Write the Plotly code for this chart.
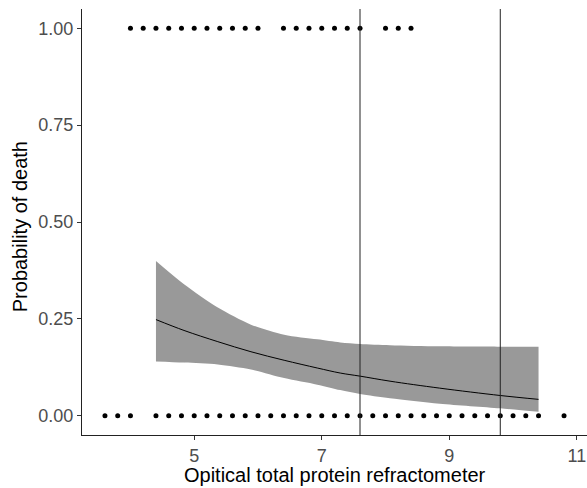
import plotly.graph_objects as go

# observed points (outcome 0 = survived, 1 = died)
x_dead = [4.0, 4.2, 4.4, 4.6, 4.8, 5.0, 5.2, 5.4, 5.6, 5.8, 6.0,
          6.4, 6.6, 6.8, 7.0, 7.2, 7.4, 7.6,
          8.0, 8.2, 8.4]
x_alive = [3.6, 3.8, 4.0,
           4.4, 4.6, 4.8, 5.0, 5.2, 5.4, 5.6, 5.8, 6.0, 6.2, 6.4, 6.6, 6.8, 7.0,
           7.2, 7.4, 7.6, 7.8, 8.0, 8.2, 8.4, 8.6, 8.8, 9.0, 9.2, 9.4, 9.6, 9.8,
           10.0, 10.2, 10.4,
           10.8]

# fitted curve and confidence band
fit_x = [4.4, 4.84, 5.37, 5.89, 6.41, 6.93, 7.29, 7.6, 8.07, 8.85, 9.8, 10.4]
fit_y = [0.248, 0.220, 0.191, 0.165, 0.143, 0.123, 0.110, 0.102, 0.089, 0.071, 0.052, 0.042]
fit_hi = [0.399, 0.339, 0.279, 0.235, 0.209, 0.197, 0.189, 0.185, 0.182, 0.179, 0.178, 0.178]
fit_lo = [0.140, 0.137, 0.132, 0.119, 0.097, 0.080, 0.066, 0.056, 0.045, 0.031, 0.019, 0.010]

vlines = [7.6, 9.8]

fig = go.Figure()
fig.add_trace(go.Scatter(x=fit_x, y=fit_lo, mode="lines",
                         line=dict(width=0, color="#999999", shape="spline", smoothing=0.8),
                         hoverinfo="skip", showlegend=False))
fig.add_trace(go.Scatter(x=fit_x, y=fit_hi, mode="lines", fill="tonexty", fillcolor="#999999",
                         line=dict(width=0, color="#999999", shape="spline", smoothing=0.8),
                         hoverinfo="skip", showlegend=False))
fig.add_trace(go.Scatter(x=fit_x, y=fit_y, mode="lines", line=dict(color="black", width=1),
                         line_shape="spline", showlegend=False))
fig.add_trace(go.Scatter(x=x_dead + x_alive, y=[1] * len(x_dead) + [0] * len(x_alive),
                         mode="markers", marker=dict(color="black", size=5),
                         showlegend=False))
for v in vlines:
    fig.add_shape(type="line", x0=v, x1=v, xref="x", y0=0, y1=1, yref="paper",
                  line=dict(color="#222222", width=1))

fig.add_annotation(text="Opitical total protein refractometer", xref="paper", yref="paper",
                   x=0.5, y=-0.121, xanchor="center", yanchor="bottom", showarrow=False,
                   borderpad=0, font=dict(size=20, color="black"))
fig.add_annotation(text="Probability of death", xref="paper", yref="paper",
                   x=-0.1228, y=0.49, xanchor="center", yanchor="middle", showarrow=False,
                   textangle=-90, font=dict(size=20, color="black"))

fig.update_layout(
    width=587, height=488,
    margin=dict(l=82, r=0, t=9, b=53),
    paper_bgcolor="white", plot_bgcolor="white",
    font=dict(family="Liberation Sans, Arial, sans-serif"),
    xaxis=dict(range=[3.24, 11.16], tickvals=[5, 7, 9, 11], showgrid=False, zeroline=False,
               showline=True, linecolor="#222222", linewidth=1, ticks="outside",
               ticklen=4, tickcolor="#333333", automargin=False,
               tickfont=dict(size=18, color="#4d4d4d")),
    yaxis=dict(range=[-0.05, 1.05], tickvals=[0, 0.25, 0.5, 0.75, 1.0],
               ticktext=["0.00", "0.25", "0.50", "0.75", "1.00"],
               showgrid=False, zeroline=False,
               showline=True, linecolor="#222222", linewidth=1, ticks="outside",
               ticklen=4, tickcolor="#333333", automargin=False,
               tickfont=dict(size=18, color="#4d4d4d")),
)

fig.write_html("out.html")
